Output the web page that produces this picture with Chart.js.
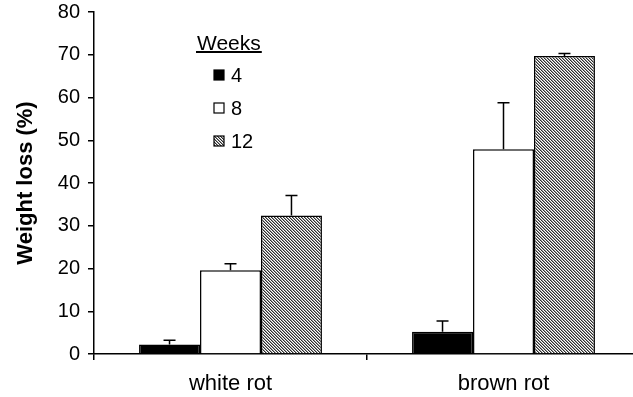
<!DOCTYPE html>
<html>
<head>
<meta charset="utf-8">
<script src="https://cdn.jsdelivr.net/npm/chart.js@4/dist/chart.umd.min.js"></script>
<style>
  html, body { margin: 0; padding: 0; background: #fff; overflow: hidden; }
  #wrap { width: 640px; height: 397px; }
</style>
</head>
<body>
<div id="wrap"><canvas id="lossChart" width="640" height="397"></canvas></div>
<script>
// weight loss per rot type, after 4, 8 and 12 weeks
const categories = ['white rot', 'brown rot'];
const weeks = ['4', '8', '12'];
const loss4 = [2.2, 5.2];
const loss8 = [19.6, 47.9];
const loss12 = [32.4, 69.7];
// upper error (sd)
const err4 = [1.0, 2.5];
const err8 = [1.5, 10.9];
const err12 = [4.7, 0.6];

const yMin = 0;
const yMax = 80;
const yStep = 10;

const FONT = '"Liberation Sans", Arial, sans-serif';

// fine diagonal hatch for the 12 week bars
function makeHatch() {
    const c = document.createElement('canvas');
    c.width = 3;
    c.height = 3;
    const g = c.getContext('2d');
    const shades = ['#2e2e2e', '#9a9a9a', '#ffffff'];
    for (let y = 0; y < 3; y++) {
        for (let x = 0; x < 3; x++) {
            g.fillStyle = shades[(x - y + 3) % 3];
            g.fillRect(x, y, 1, 1);
        }
    }
    return g.createPattern(c, 'repeat');
}

Chart.defaults.font.family = FONT;
Chart.defaults.color = '#000';

// error bars, upward only
const errorBars = {
    id: 'errorBars',
    afterDatasetsDraw(chart) {
        const ctx = chart.ctx;
        const y = chart.scales.y;
        ctx.save();
        ctx.strokeStyle = '#000';
        ctx.lineWidth = 1.5;
        chart.data.datasets.forEach((ds, i) => {
            const meta = chart.getDatasetMeta(i);
            meta.data.forEach((bar, j) => {
                const top = y.getPixelForValue(ds.data[j]);
                const end = y.getPixelForValue(ds.data[j] + ds.errors[j]);
                ctx.beginPath();
                ctx.moveTo(bar.x, top);
                ctx.lineTo(bar.x, end);
                ctx.moveTo(bar.x - 6, end);
                ctx.lineTo(bar.x + 6, end);
                ctx.stroke();
            });
        });
        ctx.restore();
    }
};

// legend box inside the plot, with underlined title
const weeksLegend = {
    id: 'weeksLegend',
    afterDraw(chart) {
        const ctx = chart.ctx;
        const a = chart.chartArea;
        const x0 = a.left + 120;
        ctx.save();
        ctx.fillStyle = '#000';
        ctx.textBaseline = 'middle';
        ctx.textAlign = 'left';
        ctx.font = '21px ' + FONT;
        ctx.fillText('Weeks', x0 - 17, a.top + 32);
        const w = ctx.measureText('Weeks').width;
        ctx.lineWidth = 2;
        ctx.beginPath();
        ctx.moveTo(x0 - 18, a.top + 40);
        ctx.lineTo(x0 - 16 + w, a.top + 40);
        ctx.stroke();
        ctx.font = '20px ' + FONT;
        chart.data.datasets.forEach((ds, i) => {
            const cy = a.top + 63 + i * 33;
            ctx.fillStyle = ds.backgroundColor;
            ctx.fillRect(x0, cy - 5, 10, 10);
            ctx.lineWidth = 1.2;
            ctx.strokeStyle = '#000';
            ctx.strokeRect(x0, cy - 5, 10, 10);
            ctx.fillStyle = '#000';
            ctx.fillText(ds.label, x0 + 17, cy + 1);
        });
        ctx.restore();
    }
};

const ctx = document.getElementById('lossChart').getContext('2d');
const hatch = makeHatch();

new Chart(ctx, {
    type: 'bar',
    data: {
        labels: categories,
        datasets: [
            { label: weeks[0], data: loss4, errors: err4, backgroundColor: '#000', borderColor: '#000', borderWidth: 1.5 },
            { label: weeks[1], data: loss8, errors: err8, backgroundColor: '#fff', borderColor: '#000', borderWidth: 1.5 },
            { label: weeks[2], data: loss12, errors: err12, backgroundColor: hatch, borderColor: '#000', borderWidth: 1.5 }
        ]
    },
    options: {
        responsive: false,
        animation: false,
        categoryPercentage: 0.67,
        barPercentage: 1.0,
        layout: {
            padding: { left: 6, right: 0, top: 12, bottom: 0 }
        },
        plugins: {
            legend: { display: false },
            tooltip: { enabled: false }
        },
        scales: {
            x: {
                afterFit(scale) { scale.height = 43; },
                grid: {
                    display: true,
                    drawOnChartArea: false,
                    drawTicks: true,
                    tickLength: 6,
                    color: '#000',
                    lineWidth: 1.5
                },
                border: { display: true, color: '#000', width: 1.5 },
                ticks: { font: { size: 22 }, padding: 11 }
            },
            y: {
                min: yMin,
                max: yMax,
                afterFit(scale) {
                    scale.width = 88;
                    // top label may overhang the plot edge
                    scale.paddingTop = 0;
                    scale.paddingBottom = 0;
                },
                grid: {
                    drawOnChartArea: false,
                    drawTicks: true,
                    tickLength: 6,
                    color: '#000',
                    lineWidth: 1.5
                },
                border: { display: true, color: '#000', width: 1.5 },
                ticks: { stepSize: yStep, font: { size: 20 }, padding: 8 },
                title: {
                    display: true,
                    text: 'Weight loss (%)',
                    font: { size: 22, weight: 'bold' },
                    padding: { top: 7, bottom: 0 }
                }
            }
        }
    },
    plugins: [errorBars, weeksLegend]
});
</script>
</body>
</html>
